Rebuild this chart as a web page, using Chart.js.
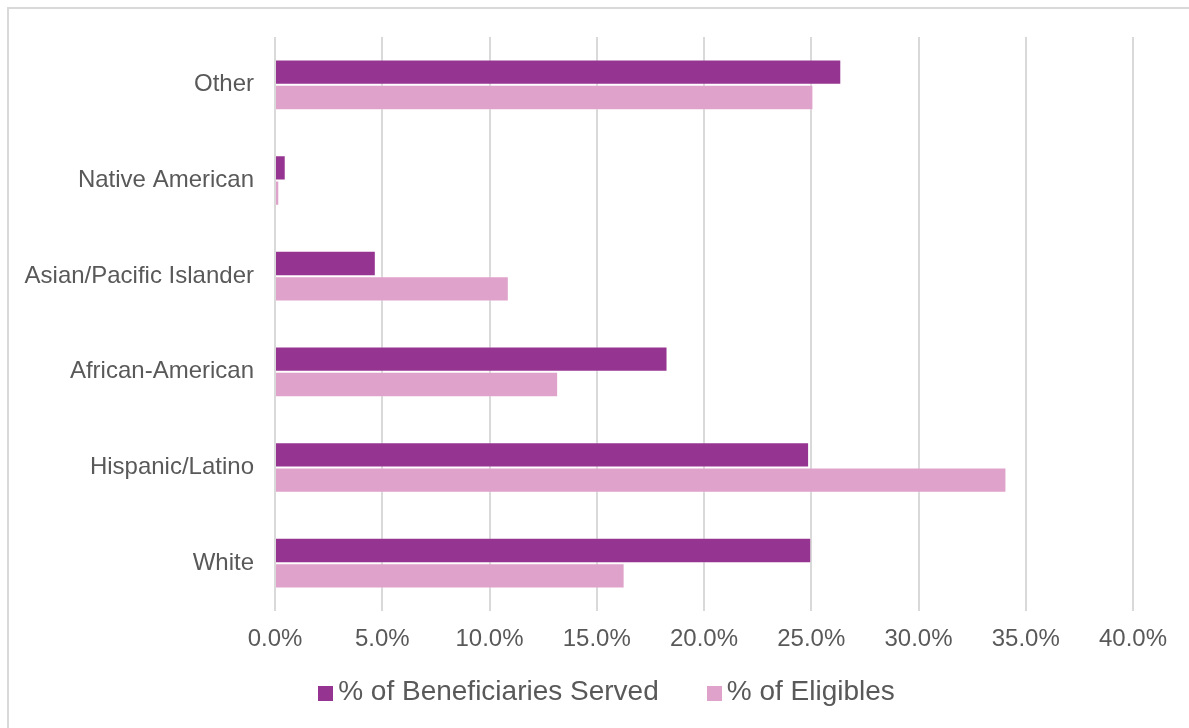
<!DOCTYPE html>
<html>
<head>
<meta charset="utf-8">
<script src="https://cdn.jsdelivr.net/npm/chart.js@4"></script>
<style>
  html, body { margin: 0; padding: 0; background: #fff; }
  #wrap { position: relative; width: 1189px; height: 728px; overflow: hidden; }
  #frame { position: absolute; left: 7px; top: 7px; width: 1300px; height: 900px; border-top: 2px solid #d9d9d9; border-left: 2px solid #d9d9d9; box-sizing: border-box; }
  canvas { position: absolute; left: 0; top: 0; }
</style>
</head>
<body>
<div id="wrap">
  <div id="frame"></div>
  <canvas id="c" width="1189" height="728"></canvas>
</div>
<script>
const categories = ['Other', 'Native American', 'Asian/Pacific Islander', 'African-American', 'Hispanic/Latino', 'White'];
const servedValues = [26.4, 0.5, 4.7, 18.3, 24.9, 25.0];
const eligibleValues = [25.1, 0.2, 10.9, 13.2, 34.1, 16.3];
const seriesNames = ['% of Beneficiaries Served', '% of Eligibles'];
const xTickMax = 40;
const xTickStep = 5;

const FONT = "'Liberation Sans', Arial, sans-serif";
const TEXT = '#595959';

// Legend drawn inside the chart canvas, Excel-style (small gap between swatch and text)
const excelLegend = {
  id: 'excelLegend',
  afterDraw(chart) {
    const ctx = chart.ctx;
    const items = chart.data.datasets;
    const box = 15, gap = 5, itemGap = 48, fontSize = 28;
    const centerX = 606.5, centerY = 692;
    ctx.save();
    ctx.font = fontSize + "px " + FONT;
    ctx.textBaseline = 'middle';
    ctx.textAlign = 'left';
    const widths = items.map(d => ctx.measureText(d.label).width);
    let total = widths.reduce((a, w) => a + box + gap + w, 0) + itemGap * (items.length - 1);
    let x = centerX - total / 2;
    items.forEach((d, i) => {
      ctx.fillStyle = d.backgroundColor;
      ctx.fillRect(Math.round(x), Math.round(centerY - box / 2 + 1), box, box);
      ctx.fillStyle = TEXT;
      ctx.fillText(d.label, x + box + gap, centerY);
      x += box + gap + widths[i] + itemGap;
    });
    ctx.restore();
  }
};

new Chart(document.getElementById('c'), {
  type: 'bar',
  data: {
    labels: categories,
    datasets: [
      { label: seriesNames[0], data: servedValues, backgroundColor: '#963591', borderColor: 'rgba(255,255,255,0.25)', borderWidth: 1, categoryPercentage: 0.53, barPercentage: 1.0 },
      { label: seriesNames[1], data: eligibleValues, backgroundColor: '#DFA2CA', borderColor: 'rgba(255,255,255,0.25)', borderWidth: 1, categoryPercentage: 0.53, barPercentage: 1.0 }
    ]
  },
  options: {
    indexAxis: 'y',
    responsive: false,
    animation: false,
    devicePixelRatio: 1,
    layout: { padding: { top: 37, left: 0, right: 0, bottom: 67 } },
    scales: {
      x: {
        min: 0, max: xTickMax,
        ticks: {
          stepSize: xTickStep,
          color: TEXT,
          font: { family: FONT, size: 24 },
          padding: 14,
          callback: v => Number(v).toFixed(1) + '%'
        },
        grid: { color: '#d9d9d9', lineWidth: 2, drawTicks: false },
        border: { display: false },
        afterFit: s => { s.height = 50; }
      },
      y: {
        ticks: { color: TEXT, font: { family: FONT, size: 24 }, padding: 21 },
        grid: { display: false, drawTicks: false },
        border: { display: false },
        afterFit: s => { s.width = 275; }
      },
      y2: {
        position: 'right',
        display: true,
        ticks: { display: false },
        grid: { display: false, drawTicks: false },
        border: { display: false },
        afterFit: s => { s.width = 56; }
      }
    },
    plugins: {
      legend: { display: false },
      tooltip: { enabled: false }
    }
  },
  plugins: [excelLegend]
});
</script>
</body>
</html>
